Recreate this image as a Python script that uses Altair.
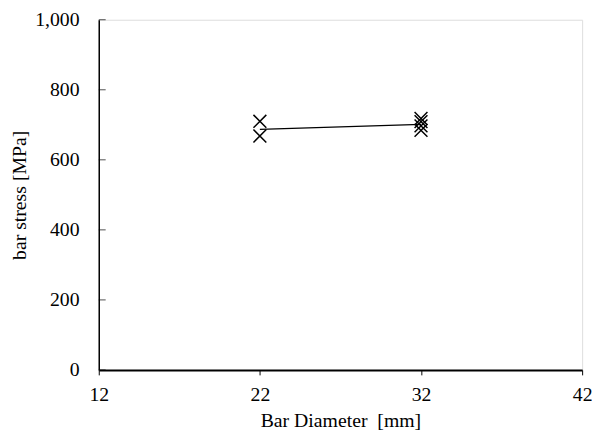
import altair as alt
import pandas as pd

diam_pts = [22, 22, 32, 32, 32, 32]
stress_pts = [710, 668, 718, 709, 697, 684]
diam_mean = [22, 32]
stress_mean = [687, 701]
y_ticks = [0, 200, 400, 600, 800, 1000]
x_ticks = [12, 22, 32, 42]

pts = pd.DataFrame({"d": diam_pts, "s": stress_pts})
means = pd.DataFrame({"d": diam_mean, "s": stress_mean})
yt = pd.DataFrame({"s": y_ticks})

FONT = "Liberation Serif"

xs = alt.X("d:Q", scale=alt.Scale(domain=[12, 42], nice=False),
           axis=alt.Axis(values=x_ticks, title="Bar Diameter\u00a0\u00a0[mm]",
                         grid=False, tickSize=5, tickColor="black", domainColor="black",
                         domainWidth=2, labelFontSize=20, titleFontSize=20, labelFlush=False,
                         labelFont=FONT, titleFont=FONT, labelColor="black", titleColor="black",
                         titleFontWeight="normal", labelPadding=10, titlePadding=6))
ys = alt.Y("s:Q", scale=alt.Scale(domain=[0, 1000], nice=False),
           axis=alt.Axis(values=y_ticks, format=",d", title="bar stress [MPa]",
                         grid=False, ticks=False, domainColor="black", labelFlush=False,
                         domainWidth=1.5, labelFontSize=20, titleFontSize=20,
                         labelFont=FONT, titleFont=FONT, labelColor="black", titleColor="black",
                         titleFontWeight="normal", labelPadding=20, titleX=-70,
                         titleBaseline="bottom"))

line = alt.Chart(means).mark_line(color="black", strokeWidth=1.3).encode(x=xs, y=ys)
points = alt.Chart(pts).mark_point(
    shape="M-1,-1L1,1M-1,1L1,-1", size=170, filled=False, color="black", strokeWidth=1.5, opacity=1
).encode(x="d:Q", y="s:Q")
ticks = alt.Chart(yt).mark_tick(color="black", thickness=1, size=7, orient="horizontal").encode(
    x=alt.value(3.5), y="s:Q")

chart = alt.layer(line, ticks, points).properties(
    width=490, height=355,
    autosize=alt.AutoSizeParams(type="none"),
    padding={"left": 92, "top": 9, "right": 10, "bottom": 60},
).configure_view(stroke="black", strokeWidth=1.5).configure(background="white")

chart.save("out.html", embed_options={"renderer": "svg", "actions": False})
